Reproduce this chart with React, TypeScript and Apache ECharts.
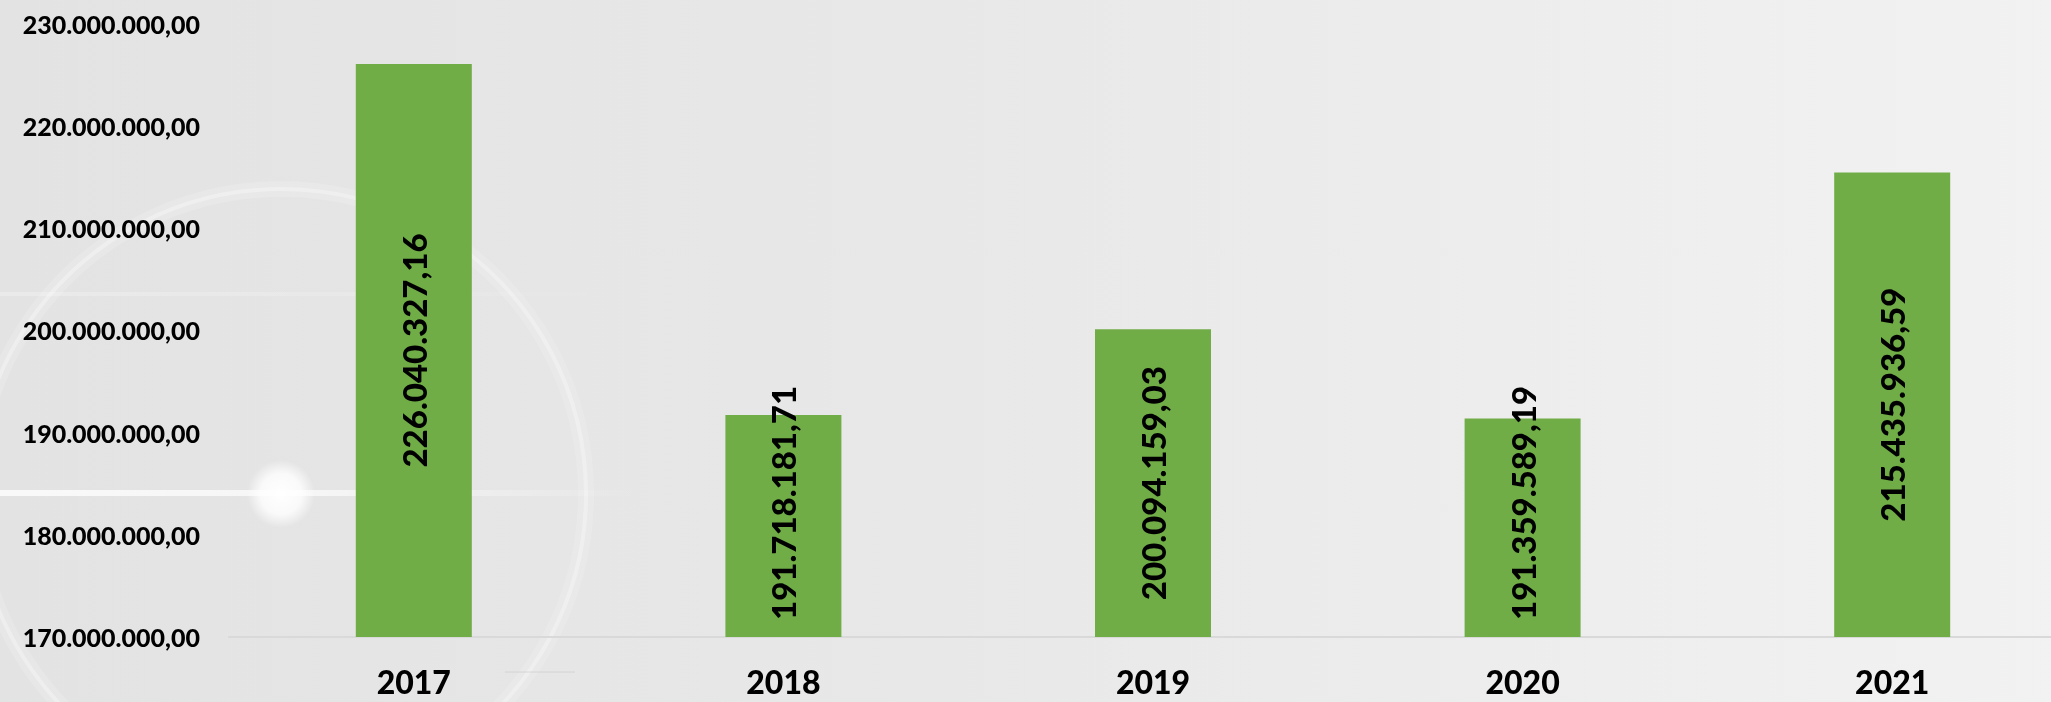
import React, { useEffect, useRef } from "react";
import * as echarts from "echarts";

const categories = ["2017", "2018", "2019", "2020", "2021"];
const values = [226040327.16, 191718181.71, 200094159.03, 191359589.19, 215435936.59];
const yMin = 170000000;
const yMax = 230000000;
const yStep = 10000000;

const W = 2051;
const H = 702;
// the original plot area runs past the right edge of the picture
const CW = 2080;
const FONT = "Lato, 'Open Sans', sans-serif";
const WEIGHT = 900;

function fmtBR(v: number): string {
  const [i, d] = v.toFixed(2).split(".");
  return i.replace(/\B(?=(\d{3})+(?!\d))/g, ".") + "," + d;
}

export default function App() {
  const ref = useRef<HTMLDivElement>(null);
  useEffect(() => {
    if (!ref.current) return;
    const chart = echarts.init(ref.current, null, { renderer: "svg", width: CW, height: H });
    const labelFont = 33;
    const gridBottom = 65;
    const axisY = H - gridBottom;

    const build = (offsets: number[]) => ({
      animation: false,
      backgroundColor: "transparent",
      grid: { left: 229, right: 3, top: 23.5, bottom: gridBottom, containLabel: false },
      graphic: [
        {
          type: "rect",
          z: -100,
          silent: true,
          shape: { x: 0, y: 0, width: CW, height: H },
          style: {
            fill: new echarts.graphic.LinearGradient(0, 0, 1, 0, [
              { offset: 0, color: "#e3e3e3" },
              { offset: 0.45, color: "#e8e8e8" },
              { offset: 1, color: "#f2f2f2" },
            ]),
          },
        },
        {
          type: "circle",
          z: -91,
          silent: true,
          shape: { cx: 281, cy: 494, r: 305 },
          style: { fill: "none", stroke: "rgba(255,255,255,0.15)", lineWidth: 16 },
        },
        {
          type: "circle",
          z: -90,
          silent: true,
          shape: { cx: 281, cy: 494, r: 305 },
          style: { fill: "none", stroke: "rgba(255,255,255,0.3)", lineWidth: 4 },
        },
        {
          type: "rect",
          z: -89,
          silent: true,
          shape: { x: 0, y: 490, width: 640, height: 6 },
          style: {
            fill: new echarts.graphic.LinearGradient(0, 0, 1, 0, [
              { offset: 0, color: "rgba(255,255,255,0.8)" },
              { offset: 0.5, color: "rgba(255,255,255,0.65)" },
              { offset: 1, color: "rgba(255,255,255,0)" },
            ]),
          },
        },
        {
          type: "rect",
          z: -89,
          silent: true,
          shape: { x: 0, y: 292, width: 620, height: 4 },
          style: {
            fill: new echarts.graphic.LinearGradient(0, 0, 1, 0, [
              { offset: 0, color: "rgba(255,255,255,0.25)" },
              { offset: 0.6, color: "rgba(255,255,255,0.15)" },
              { offset: 1, color: "rgba(255,255,255,0)" },
            ]),
          },
        },
        {
          type: "circle",
          z: -88,
          silent: true,
          shape: { cx: 281, cy: 494, r: 34 },
          style: {
            fill: new echarts.graphic.RadialGradient(0.5, 0.5, 0.5, [
              { offset: 0, color: "rgba(255,255,255,1)" },
              { offset: 0.6, color: "rgba(255,255,255,0.8)" },
              { offset: 1, color: "rgba(255,255,255,0)" },
            ]),
          },
        },
        {
          type: "line",
          z: -88,
          silent: true,
          shape: { x1: 505, y1: 672, x2: 575, y2: 672 },
          style: { stroke: "rgba(200,200,200,0.6)", lineWidth: 1 },
        },
      ],
      xAxis: {
        type: "category",
        data: categories,
        axisLine: { show: true, lineStyle: { color: "#d9d9d9", width: 2 } },
        axisTick: { show: false },
        axisLabel: {
          color: "#000",
          fontFamily: FONT,
          fontWeight: WEIGHT,
          fontSize: 32,
          margin: 28,
        },
      },
      yAxis: {
        type: "value",
        min: yMin,
        max: yMax,
        interval: yStep,
        axisLine: { show: false },
        axisTick: { show: false },
        splitLine: { show: false },
        axisLabel: {
          color: "#000",
          fontFamily: FONT,
          fontWeight: WEIGHT,
          fontSize: 25,
          margin: 29,
          formatter: (v: number) => fmtBR(v),
        },
      },
      series: [
        {
          type: "bar",
          barWidth: 116,
          itemStyle: { color: "#70ad47" },
          data: values.map((v, i) => ({
            value: v,
            label: { offset: [offsets[i] || 0, 0] },
          })),
          label: {
            show: true,
            position: "inside",
            rotate: 90,
            color: "#000",
            fontFamily: FONT,
            fontWeight: WEIGHT,
            fontSize: labelFont,
            formatter: (p: any) => fmtBR(p.value),
          },
        },
      ],
    });

    chart.setOption(build(values.map(() => 0)));

    // Excel-like: label pushed up (along its own reading direction) when the bar is short
    const canvas = document.createElement("canvas");
    const ctx = canvas.getContext("2d");
    const offsets = values.map((v) => {
      let L = 236;
      if (ctx) {
        ctx.font = `${WEIGHT} ${labelFont}px ${FONT}`;
        L = ctx.measureText(fmtBR(v)).width;
      }
      const top = chart.convertToPixel({ yAxisIndex: 0 }, v) as number;
      const center = (top + axisY) / 2;
      const maxCenter = axisY - 17 - L / 2;
      return center > maxCenter ? center - maxCenter : 0;
    });
    chart.setOption(build(offsets));

    return () => chart.dispose();
  }, []);
  return (
    <div
      style={{ position: "fixed", left: 0, top: 0, width: W, height: H, overflow: "hidden" }}
    >
      <div ref={ref} style={{ width: CW, height: H }} />
    </div>
  );
}
